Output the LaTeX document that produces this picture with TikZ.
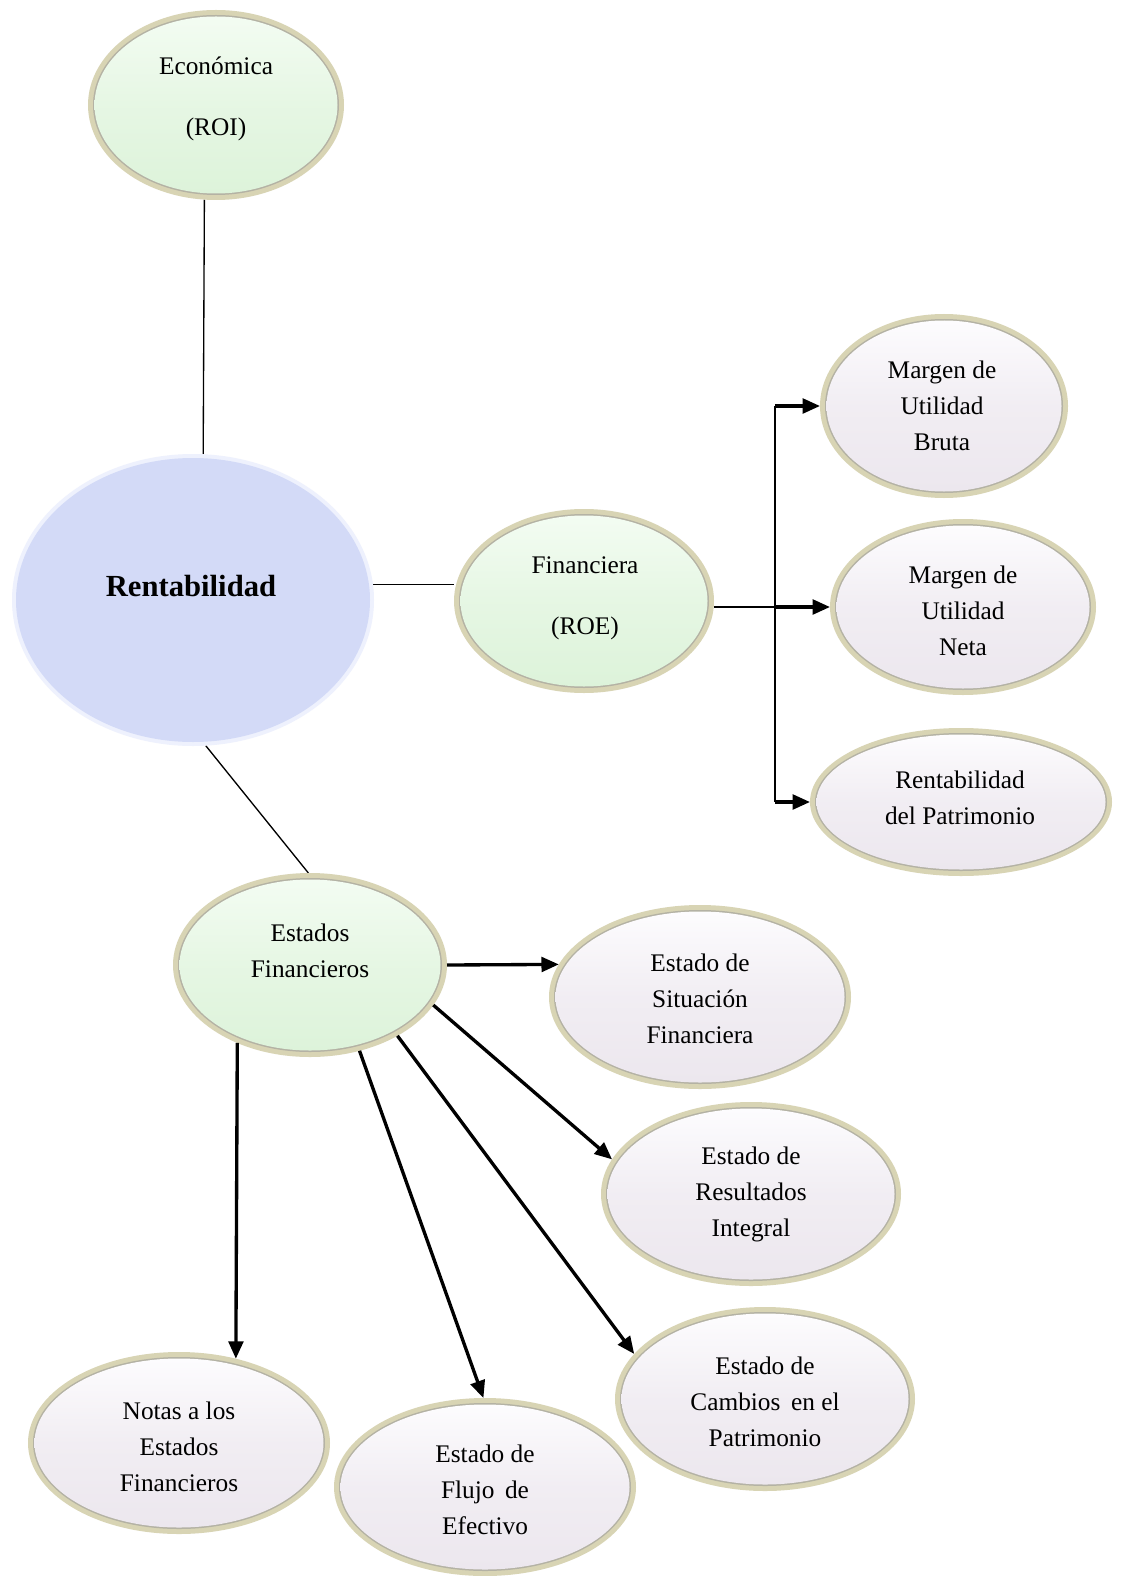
\documentclass[tikz,border=0pt]{standalone}
\usepackage{fontspec}
\setmainfont{Liberation Serif}
\usetikzlibrary{arrows.meta,calc,shapes.geometric}
\pgfdeclarelayer{bg}
\pgfsetlayers{bg,main}
\definecolor{ringc}{HTML}{D8D4B4}
\definecolor{edgec}{HTML}{B4B2A4}
\definecolor{greenf}{HTML}{DDF3DA}
\definecolor{greent}{HTML}{F3FCF2}
\definecolor{lavf}{HTML}{ECE7EE}
\definecolor{lavt}{HTML}{FDFCFE}
\definecolor{rentf}{HTML}{D3DAF7}
\definecolor{rente}{HTML}{EEF1FD}
\tikzset{
  ovalnode/.style={shape=ellipse, draw=none, inner sep=0pt, outer sep=0pt},
  greenfill/.style={top color=greent, bottom color=greenf, middle color=greenf!60!greent},
  lavfill/.style={top color=lavt, bottom color=lavf, middle color=lavf!70!lavt},
  lbl/.style={font=\fontsize{19}{27}\selectfont, align=center, inner sep=0pt},
  thinline/.style={line width=1pt, black},
  barline/.style={line width=1.6pt, black},
  arr/.style={line width=2.5pt, black, -{Triangle[length=13pt,width=11pt]}},
}
\newcommand\ovalshape[6]{%
  \fill[ringc] (#2,#3) ellipse [x radius=#4, y radius=#5];
  \fill[edgec] (#2,#3) ellipse [x radius=#4-5, y radius=#5-5];
  \shade[#6] (#2,#3) ellipse [x radius=#4-6.5, y radius=#5-6.5];
  \node[ovalnode, minimum width={#4*1.5pt}, minimum height={#5*1.5pt}] (#1) at (#2,#3) {};
}
\begin{document}
\begin{tikzpicture}[x=0.75pt,y=-0.75pt]
\useasboundingbox (0,0) rectangle (1123,1576);
\begin{pgfonlayer}{bg}
\fill[white] (0,0) rectangle (1123,1576);
\end{pgfonlayer}

% central node
\fill[rente] (193,600) ellipse [x radius=181, y radius=146];
\fill[rentf] (193,600) ellipse [x radius=177, y radius=142];
\node[ovalnode, minimum width={181*1.5pt}, minimum height={146*1.5pt}] (rent) at (193,600) {};
\node[font=\fontsize{23}{28}\selectfont\bfseries, inner sep=0pt] (rent-t) at (191,586) {Rentabilidad};

% ovals
\ovalshape{eco}{216}{105}{128}{95}{greenfill}
\node[lbl] (eco-t) at (216,99) {Económica\\[19pt](ROI)};
\ovalshape{fin}{584}{601}{130}{92}{greenfill}
\node[lbl] (fin-t) at (585,598) {Financiera\\[19pt](ROE)};
\ovalshape{ef}{310}{965}{137}{92}{greenfill}
\node[lbl] (ef-t) at (310,951) {Estados\\Financieros};

\ovalshape{mub}{944}{406}{124}{92}{lavfill}
\node[lbl] (mub-t) at (942,406) {Margen de\\Utilidad\\Bruta};
\ovalshape{mun}{963}{607}{133}{88}{lavfill}
\node[lbl] (mun-t) at (963,611) {Margen de\\Utilidad\\Neta};
\ovalshape{rp}{961}{802}{151}{74}{lavfill}
\node[lbl] (rp-t) at (960,798) {Rentabilidad\\del Patrimonio};

\ovalshape{esf}{700}{997}{151}{92}{lavfill}
\node[lbl] (esf-t) at (700,999) {Estado de\\Situación\\Financiera};
\ovalshape{eri}{751}{1194}{150}{92}{lavfill}
\node[lbl] (eri-t) at (751,1194) {Estado de\\Resultados\\Integral};
\ovalshape{ecp}{765}{1399}{150}{92}{lavfill}
\node[lbl] (ecp-t) at (765,1402) {Estado de\\Cambios\, en el\\Patrimonio};
\ovalshape{notas}{179}{1443}{151}{91}{lavfill}
\node[lbl] (notas-t) at (179,1447) {Notas a los\\Estados\\Financieros};
\ovalshape{efe}{485}{1487}{151}{89}{lavfill}
\node[lbl] (efe-t) at (485,1490) {Estado de\\Flujo\, de\\Efectivo};

% thin connectors (behind the ovals)
\begin{pgfonlayer}{bg}
\draw[thinline] (eco.263) -- (rent.86);
\draw[thinline] (rent.5.7) -- (fin.west |- rent.5.7);
\draw[thinline] (rent.-85.7) -- (ef.91.3);
\end{pgfonlayer}

% financiera branch
\coordinate (j) at (775,607);
\begin{pgfonlayer}{bg}
\draw[thinline] (fin.east |- mun.west) -- (j |- mun.west);
\end{pgfonlayer}
\draw[barline] (j |- mub.west) -- (j |- rp.west);
\draw[arr] (j |- mub.west) -- (mub.west);
\draw[arr] (j |- mun.west) -- (mun.west);
\draw[arr] (j |- rp.west) -- (rp.west);

% estados financieros branch
\draw[arr] (ef.east) -- (esf.167);
\draw[arr] (ef.-18.2) -- (eri.166);
\draw[arr] (ef.-39.7) -- (ecp.161);
\draw[arr] (ef.-60.7) -- (efe.91);
\draw[arr] (ef.-133.5) -- (notas.56);
\end{tikzpicture}
\end{document}
